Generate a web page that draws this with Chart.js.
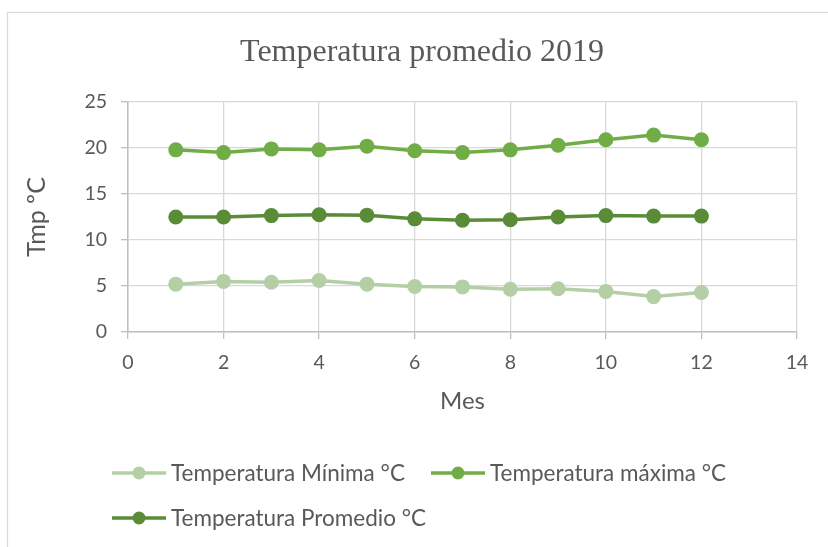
<!DOCTYPE html>
<html>
<head>
<meta charset="utf-8">
<script src="https://cdn.jsdelivr.net/npm/chart.js@4/dist/chart.umd.min.js"></script>
<style>
  html, body { margin: 0; padding: 0; background: #ffffff; }
  canvas { display: block; }
</style>
</head>
<body>
<canvas id="c" width="828" height="547"></canvas>
<script>
// ---- data ----
const months = [1, 2, 3, 4, 5, 6, 7, 8, 9, 10, 11, 12];
const tempMin = [5.2, 5.5, 5.4, 5.6, 5.2, 4.95, 4.9, 4.65, 4.7, 4.4, 3.85, 4.3];
const tempMax = [19.8, 19.5, 19.9, 19.8, 20.2, 19.7, 19.5, 19.8, 20.3, 20.9, 21.4, 20.9];
const tempProm = [12.5, 12.5, 12.65, 12.75, 12.7, 12.3, 12.15, 12.2, 12.5, 12.65, 12.6, 12.6];
const seriesLabels = ['Temperatura Mínima °C', 'Temperatura máxima °C', 'Temperatura Promedio °C'];
const xTicks = [0, 2, 4, 6, 8, 10, 12, 14];
const yTicks = [0, 5, 10, 15, 20, 25];
const chartTitle = 'Temperatura promedio 2019';
const xTitle = 'Mes';
const yTitle = 'Tmp ºC';

// ---- styles ----
const colMin = '#b4cfa5';
const colMax = '#70ad47';
const colProm = '#5a8c38';
const textCol = '#595959';
const gridCol = '#d9d9d9';
const axisCol = '#bfbfbf';
const sansFont = 'Lato, "Open Sans", sans-serif';

function toPoints(ys) { return months.map((m, i) => ({ x: m, y: ys[i] })); }

function ds(label, data, color) {
  return {
    label: label,
    data: toPoints(data),
    borderColor: color,
    backgroundColor: color,
    borderWidth: 3.5,
    pointRadius: 7.5,
    pointHoverRadius: 7.5,
    pointBorderWidth: 0,
    pointBackgroundColor: color,
    tension: 0,
    fill: false
  };
}

const frame = {
  id: 'frame',
  beforeDraw(chart) {
    const ctx = chart.ctx;
    ctx.save();
    ctx.fillStyle = '#ffffff';
    ctx.fillRect(0, 0, chart.width, chart.height);
    ctx.strokeStyle = gridCol;
    ctx.lineWidth = 1.2;
    ctx.strokeRect(7.5, 12.5, 1000, 1000);
    ctx.restore();
  },
  afterDraw(chart) {
    const ctx = chart.ctx;
    ctx.save();
    ctx.font = '32px "Liberation Serif", "Times New Roman", serif';
    ctx.fillStyle = textCol;
    ctx.textAlign = 'center';
    ctx.textBaseline = 'alphabetic';
    ctx.fillText(chartTitle, 422, 61);
    ctx.restore();
  }
};

const customLegend = {
  id: 'customLegend',
  afterDraw(chart) {
    const ctx = chart.ctx;
    const rows = [[0, 1], [2]];
    const rowY = [473, 518];
    const itemX = [[112, 431], [112]];
    ctx.save();
    ctx.font = '22.5px ' + sansFont;
    ctx.textBaseline = 'middle';
    ctx.textAlign = 'left';
    rows.forEach((row, r) => {
      row.forEach((di, k) => {
        const d = chart.data.datasets[di];
        const x = itemX[r][k];
        const y = rowY[r];
        ctx.strokeStyle = d.borderColor;
        ctx.lineWidth = 3.5;
        ctx.beginPath();
        ctx.moveTo(x, y);
        ctx.lineTo(x + 54, y);
        ctx.stroke();
        ctx.fillStyle = d.borderColor;
        ctx.beginPath();
        ctx.arc(x + 27, y, 6.5, 0, Math.PI * 2);
        ctx.fill();
        ctx.fillStyle = textCol;
        ctx.fillText(d.label, x + 59, y + 1);
      });
    });
    ctx.restore();
  }
};

new Chart(document.getElementById('c'), {
  type: 'line',
  data: {
    datasets: [
      ds(seriesLabels[0], tempMin, colMin),
      ds(seriesLabels[1], tempMax, colMax),
      ds(seriesLabels[2], tempProm, colProm)
    ]
  },
  options: {
    responsive: false,
    animation: false,
    devicePixelRatio: 1,
    layout: { padding: { left: 0, right: 31, top: 102, bottom: 131 } },
    plugins: {
      legend: { display: false },
      tooltip: { enabled: false },
      title: { display: false }
    },
    scales: {
      x: {
        type: 'linear',
        min: 0,
        max: 14,
        afterBuildTicks(scale) { scale.ticks = xTicks.map(v => ({ value: v })); },
        ticks: { color: textCol, font: { family: sansFont, size: 19.5 }, padding: 12, maxRotation: 0 },
        grid: { color: gridCol, lineWidth: 1.3, tickLength: 7, tickColor: axisCol, drawTicks: true },
        border: { display: true, color: axisCol, width: 1.5 },
        title: { display: true, text: xTitle, color: textCol, font: { family: sansFont, size: 24 }, padding: { top: 0, bottom: 0 } },
        afterFit(scale) { scale.height = 84; }
      },
      y: {
        type: 'linear',
        min: 0,
        max: 25,
        afterBuildTicks(scale) { scale.ticks = yTicks.map(v => ({ value: v })); },
        ticks: { color: textCol, font: { family: sansFont, size: 19.5 }, padding: 14 },
        grid: { color: gridCol, lineWidth: 1.3, tickLength: 7, tickColor: axisCol, drawTicks: true },
        border: { display: true, color: axisCol, width: 1.5 },
        title: { display: true, text: yTitle, color: textCol, font: { family: sansFont, size: 25 }, padding: { top: 22, bottom: 0 } },
        afterFit(scale) { scale.width = 128; }
      }
    }
  },
  plugins: [frame, customLegend]
});
</script>
</body>
</html>
